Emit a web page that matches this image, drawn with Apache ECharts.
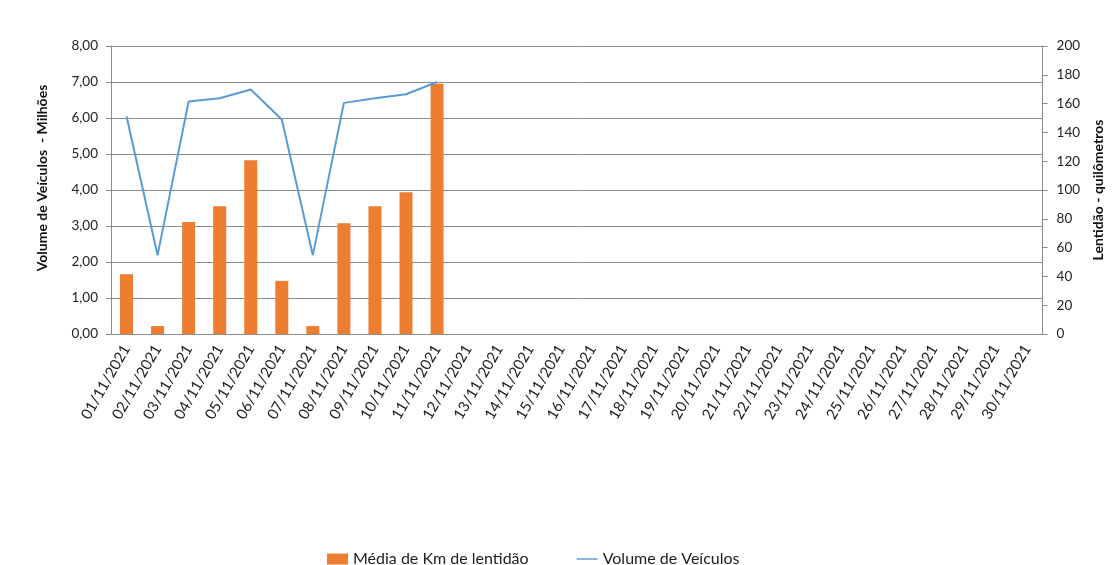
<!DOCTYPE html>
<html>
<head>
<meta charset="utf-8">
<script src="https://cdn.jsdelivr.net/npm/echarts@6/dist/echarts.min.js"></script>
<style>
  html, body { margin: 0; padding: 0; background: #fff; }
  #chart { width: 1113px; height: 565px; }
</style>
</head>
<body>
<div id="chart"></div>
<script>
var dias = [];
for (var d = 1; d <= 30; d++) {
    dias.push((d < 10 ? '0' + d : '' + d) + '/11/2021');
}

// km de lentidão (eixo direito)
var lentidaoKm = [41.5, 5.5, 77.8, 88.8, 120.7, 36.9, 5.5, 76.9, 88.8, 98.5, 173.8];
// volume de veículos em milhões (eixo esquerdo)
var volumeMilhoes = [6.05, 2.19, 6.46, 6.55, 6.79, 5.96, 2.19, 6.42, 6.55, 6.66, 7.00];

var fonte = 'Lato, "Liberation Sans", sans-serif';
var cinza = '#8c8c8c';

var myChart = echarts.init(document.getElementById('chart'));

var option = {
    animation: false,
    textStyle: { fontFamily: fonte },
    grid: { left: 111, right: 60, top: 46, bottom: 231 },
    legend: {
        top: 546,
        left: 322,
        itemGap: 48,
        itemWidth: 21,
        itemHeight: 11,
        textStyle: { fontSize: 16, color: '#222', fontFamily: fonte },
        data: [
            { name: 'Média de Km de lentidão', icon: 'rect' },
            { name: 'Volume de Veículos', icon: 'path://M0,5 L20,5 L20,6.4 L0,6.4 Z' }
        ]
    },
    xAxis: {
        type: 'category',
        data: dias,
        axisLine: { lineStyle: { color: cinza } },
        axisTick: { length: 5, lineStyle: { color: cinza } },
        axisLabel: { rotate: 60, fontSize: 15, color: '#222', margin: 12 }
    },
    yAxis: [
        {
            type: 'value',
            min: 0, max: 8, interval: 1,
            name: 'Volume de Veículos  - Milhões',
            nameLocation: 'middle',
            nameGap: 62,
            nameTextStyle: { fontWeight: 'bold', fontSize: 14, color: '#111', padding: [0, 0, 0, 24] },
            axisLine: { show: true, lineStyle: { color: cinza } },
            axisTick: { show: true, length: 5, lineStyle: { color: cinza } },
            axisLabel: {
                fontSize: 13.5, color: '#222', margin: 13,
                formatter: function (v) { return v.toFixed(2).replace('.', ','); }
            },
            splitLine: { lineStyle: { color: cinza } }
        },
        {
            type: 'value',
            min: 0, max: 200, interval: 20,
            name: 'Lentidão - quilômetros',
            nameLocation: 'middle',
            nameGap: 45,
            nameRotate: 90,
            nameTextStyle: { fontWeight: 'bold', fontSize: 14, color: '#111' },
            axisLine: { show: true, lineStyle: { color: cinza } },
            axisTick: { show: true, length: 5, lineStyle: { color: cinza } },
            axisLabel: { fontSize: 13.5, color: '#222', margin: 14 },
            splitLine: { show: false }
        }
    ],
    series: [
        {
            name: 'Média de Km de lentidão',
            type: 'bar',
            yAxisIndex: 1,
            barWidth: 13,
            itemStyle: { color: '#ED7D31' },
            data: lentidaoKm
        },
        {
            name: 'Volume de Veículos',
            type: 'line',
            yAxisIndex: 0,
            symbol: 'none',
            lineStyle: { color: '#5B9BD5', width: 2 },
            itemStyle: { color: '#5B9BD5' },
            data: volumeMilhoes
        }
    ]
};

myChart.setOption(option);
</script>
</body>
</html>
